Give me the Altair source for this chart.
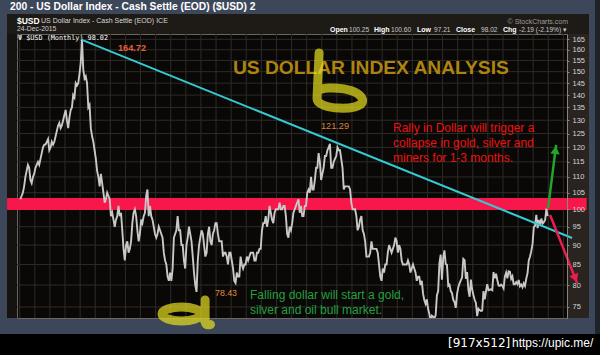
import altair as alt
import pandas as pd

# ---------------- data (monthly US Dollar Index values) -------------
y1981 = [103, 104, 105, 107, 110, 112, 114, 113, 109, 108, 110, 111]
y1982 = [113, 114, 115, 114, 116, 118, 120, 121, 121, 122, 123, 119]
y1983 = [120, 122, 121, 122, 124, 126, 128, 129, 127, 128, 130, 132]
y1984 = [134, 130, 127, 131, 134, 135, 140, 139, 145, 144, 145, 149]
y1985 = [154, 164.7, 151, 147, 148, 145, 135, 136, 127, 124, 122, 119]
y1986 = [116, 112, 110, 107, 111, 108, 105, 102, 103, 105, 104, 103]
y1987 = [98, 99, 97, 95, 97, 98, 101, 98, 99, 94, 89, 86]
y1988 = [90, 91, 88, 89, 91, 96, 99, 100, 98, 94, 91, 93]
y1989 = [97, 96, 98, 99, 104, 106, 98, 101, 98, 97, 95, 93]
y1990 = [92, 93, 95, 94, 93, 92, 88, 86, 85, 82, 81, 83]
y1991 = [81, 84, 92, 93, 94, 98, 94, 94, 90, 90, 86, 84]
y1992 = [90, 92, 95, 93, 91, 87, 83, 80, 78.4, 86, 90, 92]
y1993 = [94, 93, 90, 87, 88, 93, 95, 91, 90, 93, 94, 96]
y1994 = [96, 93, 91, 91, 91, 87, 88, 88, 87, 85, 88, 88]
y1995 = [86, 84, 81, 80.5, 83, 82, 82, 87, 85, 84, 85, 85]
y1996 = [87, 86, 87, 88, 88, 88, 86, 86, 88, 88, 89, 89]
y1997 = [94, 96, 96, 98, 95, 97, 101, 99, 97, 96, 99, 100]
y1998 = [100, 100, 102, 100, 100, 101, 101, 98, 93, 92, 95, 94]
y1999 = [96, 99, 100, 101, 102, 103, 99, 101, 98, 98, 101, 101]
y2000 = [105, 106, 105, 110, 106, 106, 109, 113, 113, 118, 115, 109]
y2001 = [111, 113, 117, 117, 119, 120, 121.3, 113, 113, 115, 116, 117]
y2002 = [120, 119, 119, 116, 113, 106, 107, 107, 107, 107, 106, 102]
y2003 = [100, 100, 100, 98, 94, 95, 97, 98, 94, 93, 91, 87]
y2004 = [87, 87, 88, 91, 89, 89, 89, 89, 88, 85, 82, 81]
y2005 = [84, 83, 85, 85, 88, 90, 89, 88, 89, 90, 92, 91]
y2006 = [88, 90, 89, 86, 85, 85, 85, 85, 86, 85, 83, 84]
y2007 = [85, 84, 83, 81, 82, 82, 80, 81, 78, 76.5, 75.7, 76.7]
y2008 = [74.6, 73.5, 71.8, 73.1, 72.9, 72.5, 73.2, 77.6, 78.6, 85.3, 87.5, 81.3]
y2009 = [86.6, 88.6, 85.1, 84.9, 79.8, 80.1, 78.6, 78.1, 76.6, 76.1, 74.8, 77.9]
y2010 = [79.5, 80.4, 81.1, 81.8, 86.4, 86.1, 81.5, 83.1, 78.9, 77.3, 81.3, 79.0]
y2011 = [77.7, 76.6, 75.9, 73.0, 74.6, 74.3, 74.1, 74.2, 78.6, 76.7, 78.5, 80.2]
y2012 = [78.8, 78.9, 79.0, 78.8, 83.1, 81.6, 82.7, 81.2, 79.9, 79.8, 80.1, 79.8]
y2013 = [79.2, 82.0, 83.0, 81.6, 83.3, 83.2, 81.5, 82.1, 80.2, 80.2, 80.7, 80.2]
y2014 = [81.2, 79.7, 80.1, 79.5, 80.4, 79.8, 81.5, 82.8, 86.0, 87.0, 88.4, 90.3]
y2015 = [94.8, 95.3, 98.4, 94.6, 96.9, 95.5, 97.3, 95.9, 96.3, 96.9, 100.2, 98.0]

year_lists = [y1981, y1982, y1983, y1984, y1985, y1986, y1987, y1988, y1989, y1990,
              y1991, y1992, y1993, y1994, y1995, y1996, y1997, y1998, y1999, y2000,
              y2001, y2002, y2003, y2004, y2005, y2006, y2007, y2008, y2009, y2010,
              y2011, y2012, y2013, y2014, y2015]
first_year = 1981

y_ticks = [75, 80, 85, 90, 95, 100, 105, 110, 115, 120, 125, 130, 135, 140, 145, 150, 155, 160, 165]
grid_years = list(range(1981, 2018))

# annotation data (in data units)
trend_t = [1985.125, 2017.575]
trend_v = [164.72, 91.9]
band_t = [1980.16, 2018.54]
band_v = [99.8, 103.4]
green_t = [2015.99, 2016.52]
green_v = [100.4, 120.9]
red_t = [2016.12, 2017.91]
red_v = [98.35, 80.5]

rows = []
for i, vals in enumerate(year_lists):
    for m, v in enumerate(vals):
        rows.append({"t": first_year + i + (m + 0.5) / 12, "v": v})
df = pd.DataFrame(rows)

# ---------------- layout constants ----------------
OX, OY = 17, 34            # plot origin in the page
W, H = 550, 284

xs = alt.Scale(domain=[1980.82, 2017.24], nice=False, zero=False)
ys = alt.Scale(type="log", domain=[72.6, 167.6], nice=False)
yax = alt.Axis(orient="right", values=y_ticks, grid=False, domainColor="#8a857d",
               tickColor="#8a857d", tickSize=2, labelColor="#d6d6d6", labelFontSize=7.5,
               labelFont="Liberation Sans", labelPadding=3, zindex=1, title=None,
               format="d", labelFlush=False)

one = pd.DataFrame({"a": [0]})


def X(f="t"):
    return alt.X(f"{f}:Q", scale=xs, axis=None)


def Y(f="v"):
    return alt.Y(f"{f}:Q", scale=ys, axis=yax)


def box(x1, y1, x2, y2, color):
    return alt.Chart(one).mark_rect(color=color).encode(
        x=alt.value(x1 - OX), x2=alt.value(x2 - OX),
        y=alt.value(y1 - OY), y2=alt.value(y2 - OY))


def label(text, x, y, size, color, weight="normal", align="left",
          font="Liberation Sans", baseline="middle"):
    return alt.Chart(one).mark_text(
        text=text, align=align, baseline=baseline, fontSize=size, font=font,
        fontWeight=weight, color=color).encode(
        x=alt.value(x - OX), y=alt.value(y - OY))


layers = []
# frame pieces (outside the plot area)
layers += [
    box(7, 14, 589, 34, "#1e1a16"),        # header strip
    box(7, 34, 17, 318, "#15120f"),        # left strip
    box(567, 34, 589, 318, "#29241f"),     # right axis column
    box(0, 334, 600, 355, "#000000"),      # bottom black band
    box(595, 0, 600, 334, "#1d222b"),      # right edge
]

# grid
layers.append(alt.Chart(pd.DataFrame({"yr": grid_years})).mark_rule(
    color="#2e2b27", strokeWidth=1).encode(x=alt.X("yr:Q", scale=xs, axis=None)))
layers.append(alt.Chart(pd.DataFrame({"g": y_ticks})).mark_rule(
    color="#2e2b27", strokeWidth=1).encode(y=Y("g")))

# red resistance band
layers.append(alt.Chart(pd.DataFrame({"t1": [band_t[0]], "t2": [band_t[1]],
                                      "v1": [band_v[0]], "v2": [band_v[1]]})).mark_rect(
    color="#f7174a", clip=False).encode(
    x=X("t1"), x2="t2", y=Y("v1"), y2="v2"))

# price series
layers.append(alt.Chart(df).mark_line(color="#c8c8c8", strokeWidth=1.9, clip=True).encode(
    x=X(), y=Y()))

# trend line
layers.append(alt.Chart(pd.DataFrame({"t": trend_t, "v": trend_v})).mark_line(
    color="#35c9d3", strokeWidth=2, clip=False).encode(x=X(), y=Y()))

# arrows
layers.append(alt.Chart(pd.DataFrame({"t": green_t, "v": green_v})).mark_line(
    color="#22a52a", strokeWidth=2.5, clip=False).encode(x=X(), y=Y()))
layers.append(alt.Chart(pd.DataFrame({"t": [2016.475], "v": [119.1]})).mark_point(
    shape="triangle-up", filled=True, size=90, angle=7, color="#22a52a", opacity=1,
    clip=False).encode(x=X(), y=Y()))
layers.append(alt.Chart(pd.DataFrame({"t": red_t, "v": red_v})).mark_line(
    color="#ec1c4c", strokeWidth=2.5, clip=False).encode(x=X(), y=Y()))
layers.append(alt.Chart(pd.DataFrame({"t": [2017.79], "v": [81.6]})).mark_point(
    shape="triangle-down", filled=True, size=90, angle=338, color="#ec1c4c", opacity=1,
    clip=False).encode(x=X(), y=Y()))

# header texts
layers += [
    label("200 - US Dollar Index - Cash Settle (EOD) ($USD) 2", 10, 7, 10.3, "#ffffff", "bold"),
    label("$USD", 17, 21, 8.5, "#ffffff", "bold"),
    label("US Dollar Index - Cash Settle (EOD) ICE", 41, 21, 7, "#d8d8d8"),
    label("24-Dec-2015", 17, 28.5, 6.8, "#d0d0d0"),
    label("\u03a8 $USD (Monthly) 98.02", 18, 38, 6.8, "#ffffff", font="DejaVu Sans Mono"),
    label("\u00a9 StockCharts.com", 568, 21.5, 7, "#9a9a9a", align="right"),
]
hdr_bold = [("Open", 330), ("High", 374), ("Low", 417), ("Close", 456), ("Chg", 503)]
hdr_val = [("100.25", 349), ("100.60", 391), ("97.21", 434), ("98.02", 481),
           ("-2.19 (-2.19%) \u25be", 519)]
for txt, x in hdr_bold:
    layers.append(label(txt, x, 29.5, 7, "#ffffff", "bold"))
for txt, x in hdr_val:
    layers.append(label(txt, x, 29.5, 6.6, "#c8c8c8"))

# annotations
layers += [
    label("164.72", 132, 48, 9.2, "#e2603a", "bold", align="center"),
    label("121.29", 335, 126, 9.2, "#d9843c", align="center"),
    label("78.43", 226, 293, 8.8, "#e08a3c", align="center"),
    label("US DOLLAR INDEX ANALYSIS", 233, 68, 19.2, "#ae840f", "bold"),
    label("Rally in Dollar will trigger a", 393, 128, 12, "#ee1010"),
    label("collapse in gold, silver and", 393, 143, 12, "#ee1010"),
    label("miners for 1-3 months.", 393, 158, 12, "#ee1010"),
    label("Falling dollar will start a gold,", 250, 295, 12, "#22a040"),
    label("silver and oil bull market.", 250, 310, 12, "#22a040"),
    label("[917x512]", 448, 343, 12, "#ffffff", font="DejaVu Sans"),
    label("https://upic.me/", 512, 343, 12, "#ffffff"),
]

# hand-drawn highlighter marks
b_path = ("M-0.63,-0.97 L-0.7,0.55 C-0.7,0.95 0.78,0.97 0.82,0.65 "
          "C0.87,0.22 -0.4,0.08 -0.68,0.3")
a_path = ("M0.533,0.067 C0.533,0.196 0.242,0.3 -0.117,0.3 "
          "C-0.476,0.3 -0.767,0.196 -0.767,0.067 "
          "C-0.767,-0.062 -0.476,-0.166 -0.117,-0.166 "
          "C0.242,-0.166 0.533,-0.062 0.533,0.067 "
          "M0.67,-0.4 L0.67,0.33 Q0.7,0.45 0.85,0.42")
for path, cx, cy in [(b_path, 338, 82), (a_path, 185, 312)]:
    layers.append(alt.Chart(one).mark_point(
        shape=path, size=3600, filled=False, stroke="#e6e020", strokeWidth=9,
        strokeOpacity=0.7, strokeCap="round", strokeJoin="round", opacity=1).encode(
        x=alt.value(cx - OX), y=alt.value(cy - OY)))

chart = alt.layer(*layers).properties(
    width=W, height=H,
    padding={"left": OX, "top": OY, "right": 600 - OX - W, "bottom": 355 - OY - H},
    autosize=alt.AutoSizeParams(type="none"),
    background="#3c475a",
).configure_view(fill="#0a0806", stroke="#6b665f", strokeWidth=1)

chart.save("out.html", embed_options={"renderer": "svg", "actions": False})
